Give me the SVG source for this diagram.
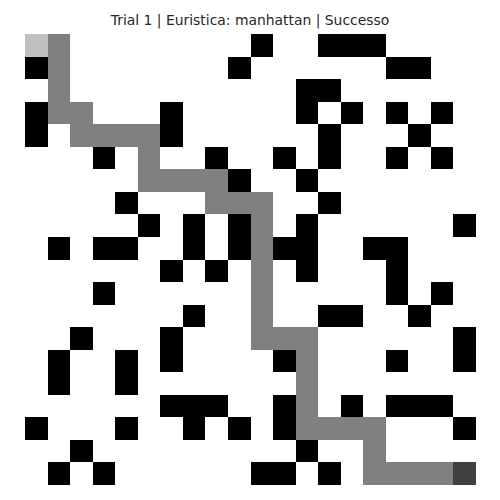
<svg xmlns="http://www.w3.org/2000/svg" width="500" height="500" viewBox="0 0 500 500">
<style>
.t{font-family:"DejaVu Sans",sans-serif;font-size:13.9px;fill:#262626}
.o{fill:#000}
.p{fill:#808080}
.s{fill:#c0c0c0}
.g{fill:#404040}
rect{shape-rendering:crispEdges}
</style>
<rect width="500" height="500" fill="#fff"/>
<text class="t" x="250" y="25" text-anchor="middle">Trial 1 | Euristica: manhattan | Successo</text>
<g id="grid" transform="translate(25,34) scale(22.55)">
<g id="path">
<rect class="p" x="1" y="0" width="1" height="4"/>
<rect class="p" x="2" y="3" width="1" height="2"/>
<rect class="p" x="3" y="4" width="3" height="1"/>
<rect class="p" x="5" y="5" width="1" height="2"/>
<rect class="p" x="6" y="6" width="3" height="1"/>
<rect class="p" x="8" y="7" width="3" height="1"/>
<rect class="p" x="10" y="8" width="1" height="6"/>
<rect class="p" x="11" y="13" width="2" height="1"/>
<rect class="p" x="12" y="14" width="1" height="4"/>
<rect class="p" x="13" y="17" width="3" height="1"/>
<rect class="p" x="15" y="18" width="1" height="2"/>
<rect class="p" x="16" y="19" width="3" height="1"/>
</g>
<rect id="start" class="s" x="0" y="0" width="1" height="1"/>
<rect id="goal" class="g" x="19" y="19" width="1" height="1"/>
<g id="obstacles" class="o">
<rect x="10" y="0" width="1" height="1"/><rect x="13" y="0" width="3" height="1"/>
<rect x="0" y="1" width="1" height="1"/><rect x="9" y="1" width="1" height="1"/><rect x="16" y="1" width="2" height="1"/>
<rect x="12" y="2" width="2" height="1"/>
<rect x="0" y="3" width="1" height="2"/><rect x="6" y="3" width="1" height="2"/><rect x="12" y="3" width="1" height="1"/><rect x="14" y="3" width="1" height="1"/><rect x="16" y="3" width="1" height="1"/><rect x="18" y="3" width="1" height="1"/>
<rect x="13" y="4" width="1" height="2"/><rect x="17" y="4" width="1" height="1"/>
<rect x="3" y="5" width="1" height="1"/><rect x="8" y="5" width="1" height="1"/><rect x="11" y="5" width="1" height="1"/><rect x="16" y="5" width="1" height="1"/><rect x="18" y="5" width="1" height="1"/>
<rect x="9" y="6" width="1" height="1"/><rect x="12" y="6" width="1" height="1"/>
<rect x="4" y="7" width="1" height="1"/><rect x="13" y="7" width="1" height="1"/>
<rect x="5" y="8" width="1" height="1"/><rect x="7" y="8" width="1" height="2"/><rect x="9" y="8" width="1" height="2"/><rect x="12" y="8" width="1" height="3"/><rect x="19" y="8" width="1" height="1"/>
<rect x="1" y="9" width="1" height="1"/><rect x="3" y="9" width="2" height="1"/><rect x="11" y="9" width="1" height="1"/><rect x="15" y="9" width="2" height="1"/>
<rect x="6" y="10" width="1" height="1"/><rect x="8" y="10" width="1" height="1"/><rect x="16" y="10" width="1" height="2"/>
<rect x="3" y="11" width="1" height="1"/><rect x="18" y="11" width="1" height="1"/>
<rect x="7" y="12" width="1" height="1"/><rect x="13" y="12" width="2" height="1"/><rect x="17" y="12" width="1" height="1"/>
<rect x="2" y="13" width="1" height="1"/><rect x="6" y="13" width="1" height="2"/><rect x="19" y="13" width="1" height="2"/>
<rect x="1" y="14" width="1" height="2"/><rect x="4" y="14" width="1" height="2"/><rect x="11" y="14" width="1" height="1"/><rect x="16" y="14" width="1" height="1"/>
<rect x="6" y="16" width="3" height="1"/><rect x="11" y="16" width="1" height="2"/><rect x="14" y="16" width="1" height="1"/><rect x="16" y="16" width="3" height="1"/>
<rect x="0" y="17" width="1" height="1"/><rect x="4" y="17" width="1" height="1"/><rect x="7" y="17" width="1" height="1"/><rect x="9" y="17" width="1" height="1"/><rect x="19" y="17" width="1" height="1"/>
<rect x="2" y="18" width="1" height="1"/><rect x="12" y="18" width="1" height="1"/>
<rect x="1" y="19" width="1" height="1"/><rect x="3" y="19" width="1" height="1"/><rect x="10" y="19" width="2" height="1"/><rect x="13" y="19" width="1" height="1"/>
</g>
</g>
</svg>
